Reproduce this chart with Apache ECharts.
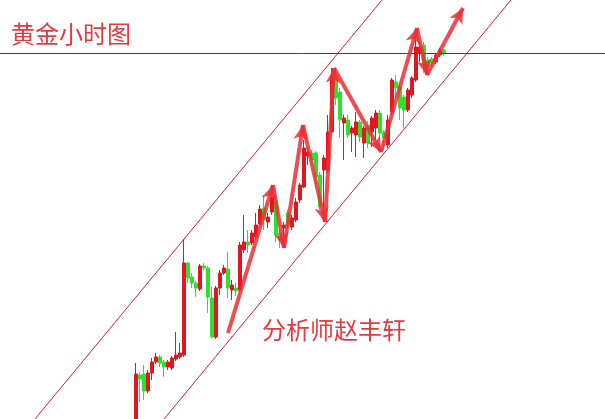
<!DOCTYPE html>
<html><head><meta charset="utf-8">
<script src="https://cdn.jsdelivr.net/npm/echarts@6/dist/echarts.min.js"></script>
<style>html,body{margin:0;padding:0;background:#fff;}#c{width:605px;height:419px;}</style>
</head><body><div id="c"></div>
<script>
// Hourly gold candles (price units arbitrary)
const opens  = [-3,44,45,28,46,57,62,57,52,51, 60,62,64,156,142,136,130,153,151,121, 82,131,146,150,129,131,129,169,177,176, 182,195,211,197,207,217,186,191,206,192, 199,219,232,263,266,266,244,249,249,287, 341,327,296,299,286,284,297,276,294,287, 291,306,287,274,307,337,332,322,309,324, 339,366,374,359,360,357,364,369];
const closes = [45,40,28,46,57,62,56,52,57,61, 64,66,156,141,136,131,153,151,122,82, 131,146,151,131,134,128,174,177,174,186, 194,210,199,202,222,184,179,194,194,201, 217,234,271,267,259,242,212,261,287,343, 321,299,301,284,291,297,282,291,276,301, 306,286,281,299,339,331,311,309,329,341, 372,372,354,353,356,364,369,366];
const lows   = [-6,17,19,26,39,55,52,42,49,49, 58,60,62,136,131,122,128,149,106,81, 80,124,144,121,119,123,127,166,166,174, 179,193,189,191,204,177,171,172,190,189, 197,216,231,254,256,231,209,204,247,284, 314,281,259,281,267,262,277,261,271,272, 279,279,269,271,304,322,299,291,307,321, 337,357,346,346,353,355,362,363];
const highs  = [56,47,54,49,61,66,64,59,59,63, 87,76,180,157,146,138,155,156,153,132, 133,149,154,167,139,136,177,204,189,189, 206,214,224,206,234,224,189,197,209,204, 221,236,279,272,269,268,247,264,304,351, 349,331,304,304,293,307,299,293,298,303, 309,309,289,304,341,344,336,324,331,343, 389,377,377,362,362,366,371,370];

// Trend arrows (candle index, price)
const arrowX = [23, 34.25, 37, 41.75, 47.25, 49.5, 61.25, 70.25, 72.75, 81.75];
const arrowY = [86, 234, 171, 294, 197, 351, 267, 391, 344, 411];

// Channel lines (candle index, price)
const upperX = [-25.25, 61.5];
const upperY = [0, 419];
const lowerX = [7, 93.75];
const lowerY = [0, 419];

// Horizontal reference level
const refLevel = 366;

const titleText = '黄金小时图';
const authorText = '分析师赵丰轩';

const candleData = opens.map((o, i) => [i, o, closes[i], lows[i], highs[i]]);
const arrowSegs = [];
for (let i = 0; i < arrowX.length - 1; i++) {
  arrowSegs.push([{coord: [arrowX[i], arrowY[i]]}, {coord: [arrowX[i + 1], arrowY[i + 1]]}]);
}
const upperData = upperX.map((x, i) => [x, upperY[i]]);
const lowerData = lowerX.map((x, i) => [x, lowerY[i]]);

const RED = '#e3161f';
const GREEN = '#2fe02f';
const CH = '#d21c3a';
const TXT = '#e5393f';

const chart = echarts.init(document.getElementById('c'), null, {renderer: 'canvas'});
chart.setOption({
  animation: false,
  backgroundColor: '#ffffff',
  title: [
    {text: titleText, left: 11, top: 22, padding: 0, textStyle: {color: TXT, fontSize: 24, fontWeight: 'normal', fontFamily: 'Noto Sans CJK SC'}},
    {text: authorText, left: 262, top: 318, padding: 0, textStyle: {color: TXT, fontSize: 24, fontWeight: 'normal', fontFamily: 'Noto Sans CJK SC'}}
  ],
  grid: {left: 0, right: 0, top: 0, bottom: 0},
  xAxis: {type: 'value', min: -34, max: 117.25, show: false},
  yAxis: {type: 'value', min: 0, max: 419, show: false},
  series: [
    {
      type: 'line', data: upperData, showSymbol: false, silent: true, clip: true,
      lineStyle: {color: CH, width: 1},
      markLine: {
        silent: true, symbol: ['none', 'none'], label: {show: false},
        lineStyle: {color: '#3a4848', width: 1, type: 'solid'},
        data: [{yAxis: refLevel}]
      }
    },
    {
      type: 'line', data: lowerData, showSymbol: false, silent: true, clip: true,
      lineStyle: {color: CH, width: 1}
    },
    {
      type: 'candlestick', data: candleData, barWidth: 3,
      itemStyle: {color: RED, color0: GREEN, borderColor: RED, borderColor0: GREEN, borderWidth: 1},
      markLine: {
        silent: true, symbol: ['none', 'arrow'], symbolSize: [11, 15], label: {show: false},
        lineStyle: {color: 'rgba(236,46,52,0.85)', width: 4, type: 'solid'},
        data: arrowSegs
      }
    }
  ]
});
</script></body></html>
